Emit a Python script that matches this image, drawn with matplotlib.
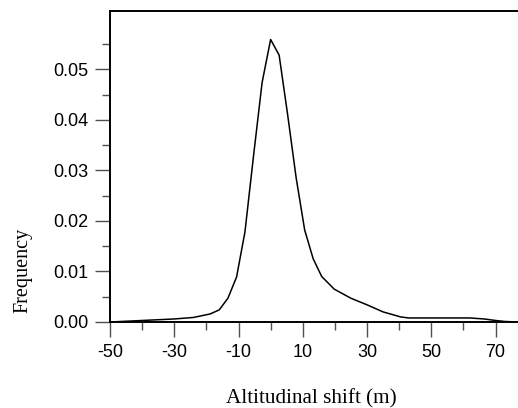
import matplotlib
matplotlib.use("Agg")
import matplotlib.pyplot as plt
from matplotlib.ticker import FixedLocator

shift = [-50, -40, -30, -24, -18.8, -16.0, -13.3, -10.6, -8.0, -5.3, -2.65, 0.0,
         2.65, 5.3, 7.95, 10.6, 13.25, 15.9, 19.8, 25, 30, 35, 40.5, 43, 50, 55,
         62, 66.5, 70, 73, 77]
freq = [0.0, 0.0003, 0.0006, 0.0009, 0.0016, 0.0024, 0.0047, 0.0089, 0.0178,
        0.0330, 0.0474, 0.0559, 0.0528, 0.0410, 0.0285, 0.0182, 0.0125, 0.0090,
        0.0065, 0.0047, 0.0034, 0.0020, 0.0010, 0.0008, 0.0008, 0.0008, 0.0008,
        0.0006, 0.0003, 0.0001, 0.0]

xticks = [-50, -30, -10, 10, 30, 50, 70]
xtick_labels = ["-50", "-30", "-10", "10", "30", "50", "70"]
xminor = [-40, -20, 0, 20, 40, 60]
yticks = [0.00, 0.01, 0.02, 0.03, 0.04, 0.05]
ytick_labels = ["0.00", "0.01", "0.02", "0.03", "0.04", "0.05"]
yminor = [0.005, 0.015, 0.025, 0.035, 0.045, 0.055]

fig = plt.figure(figsize=(5.18, 4.08), dpi=100)
ax = fig.add_axes([110/518, 1-322/408, 1-110/518, (322-11)/408])
ax.plot(shift, freq, color="black", lw=1.1)
ax.set_xlim(-50, 77)
ax.set_ylim(0, 0.06154)

ax.set_xticks(xticks)
ax.set_xticklabels(xtick_labels)
ax.xaxis.set_minor_locator(FixedLocator(xminor))
ax.set_yticks(yticks)
ax.set_yticklabels(ytick_labels)
ax.yaxis.set_minor_locator(FixedLocator(yminor))

for lab in ax.get_xticklabels() + ax.get_yticklabels():
    lab.set_fontfamily("Liberation Sans")
    lab.set_fontsize(13)
    lab.set_color("black")

ax.tick_params(which="major", length=11, width=1.0, color="#505050", direction="out", pad=4.5)
ax.tick_params(which="minor", length=5.5, width=1.0, color="#505050", direction="out")
ax.tick_params(axis="x", which="major", pad=5)

ax.spines["right"].set_visible(False)
for s in ["left", "top", "bottom"]:
    ax.spines[s].set_linewidth(1.4)
    ax.spines[s].set_color("black")

fig.text(311.7/518, 1-403/408, "Altitudinal shift (m)", ha="center", va="baseline",
         fontfamily="Liberation Serif", fontsize=15.2)
fig.text(23/518, 1-270.5/408, "Frequency", ha="center", va="center", rotation=90,
         fontfamily="Liberation Serif", fontsize=14.5)

fig.savefig("out.png", dpi=100)
